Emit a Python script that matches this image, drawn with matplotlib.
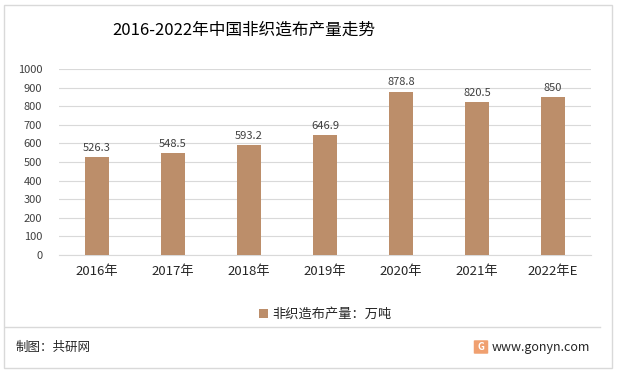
import matplotlib.pyplot as plt
from matplotlib.patches import Rectangle, FancyBboxPatch
from matplotlib.lines import Line2D

plt.rcParams['font.family'] = ['Noto Sans CJK SC', 'DejaVu Sans']

years = ['2016年', '2017年', '2018年', '2019年', '2020年', '2021年', '2022年E']
output = [526.3, 548.5, 593.2, 646.9, 878.8, 820.5, 850]
value_labels = ['526.3', '548.5', '593.2', '646.9', '878.8', '820.5', '850']
yticks = list(range(0, 1001, 100))

bar_color = '#BC8E6A'
text_color = '#404040'

fig = plt.figure(figsize=(6.17, 3.73), dpi=100)
ax = fig.add_axes([0.0956, 0.3164, 0.8624, 0.4986])

x = range(len(years))
bars = ax.bar(x, output, width=0.32, color=bar_color, zorder=3,
              label='非织造布产量：万吨')
for xi, v, lab in zip(x, output, value_labels):
    ax.text(xi, v + 22, lab, ha='center', va='bottom', fontsize=8, color=text_color)

ax.set_xlim(-0.5, len(years) - 0.5)
ax.set_ylim(0, 1000)
ax.set_yticks(yticks)
ax.set_yticklabels([str(t) for t in yticks], fontsize=8, color=text_color)
ax.set_xticks(list(x))
ax.set_xticklabels(years, fontsize=9.5, color='#262626')
ax.tick_params(axis='both', length=0)
ax.tick_params(axis='x', pad=7)
ax.tick_params(axis='y', pad=12)
ax.grid(axis='y', color='#D9D9D9', linewidth=0.8, zorder=0)
for s in ['top', 'right', 'left']:
    ax.spines[s].set_visible(False)
ax.spines['bottom'].set_color('#D9D9D9')

fig.text(0.395, 0.918, '2016-2022年中国非织造布产量走势', ha='center', va='center',
         fontsize=12, color='black')

ax.legend(loc='center', bbox_to_anchor=(0.5, -0.32), frameon=False, fontsize=9.5,
          handlelength=0.7, handleheight=0.7, handletextpad=0.3, labelcolor='#262626')

# frame, separator and footer
fig.add_artist(Rectangle((4 / 617, 5 / 373), 608 / 617, 363 / 373, transform=fig.transFigure,
                         fill=False, edgecolor='#D9D9D9', linewidth=1))
fig.add_artist(Line2D([5 / 617, 600 / 617], [1 - 327 / 373, 1 - 327 / 373],
                      transform=fig.transFigure, color='#D9D9D9', linewidth=1))
fig.text(16 / 617, 1 - 347 / 373, '制图：共研网', ha='left', va='center', fontsize=9, color='#262626')
fig.add_artist(FancyBboxPatch((475 / 617, 1 - 353 / 373), 12 / 617, 12 / 373,
                              boxstyle='round,pad=0.002', transform=fig.transFigure,
                              facecolor='#F0A070', edgecolor='none'))
fig.text(481 / 617, 1 - 347 / 373, 'G', ha='center', va='center', fontsize=7,
         color='white', fontweight='bold')
fig.text(492 / 617, 1 - 347 / 373, 'www.gonyn.com', ha='left', va='center', fontsize=9,
         color='#262626')

fig.savefig('out.png', dpi=100)
